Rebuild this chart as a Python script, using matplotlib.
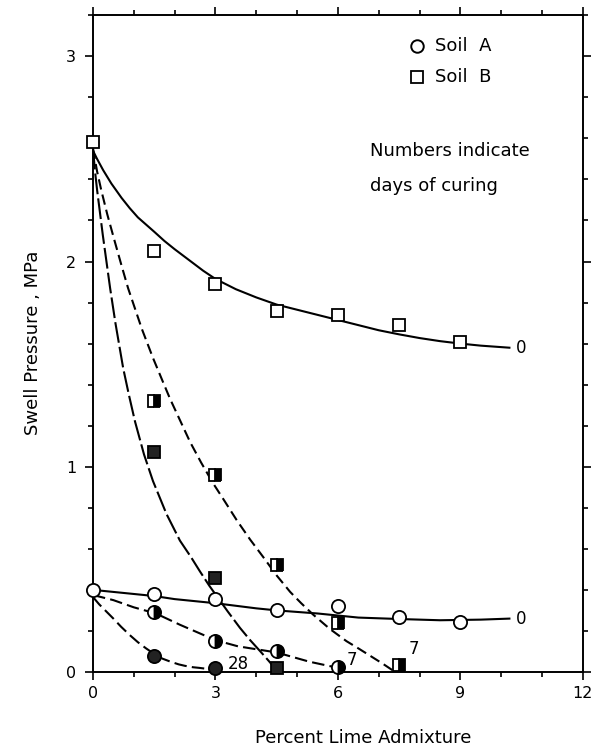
import matplotlib
matplotlib.use("Agg")
import matplotlib.pyplot as plt
from matplotlib.ticker import MultipleLocator

# measured points (percent lime, swell pressure MPa)
a0_x = [0, 1.5, 3, 4.5, 6, 7.5, 9]
a0_y = [0.40, 0.38, 0.355, 0.30, 0.32, 0.27, 0.245]
a7_x = [1.5, 3, 4.5, 6]
a7_y = [0.29, 0.15, 0.10, 0.025]
a28_x = [1.5, 3]
a28_y = [0.08, 0.02]

b0_x = [0, 1.5, 3, 4.5, 6, 7.5, 9]
b0_y = [2.58, 2.05, 1.89, 1.76, 1.74, 1.69, 1.61]
b7_x = [1.5, 3, 4.5, 6, 7.5]
b7_y = [1.32, 0.96, 0.52, 0.24, 0.035]
b28_x = [1.5, 3, 4.5]
b28_y = [1.07, 0.46, 0.02]

# hand drawn trend curves
cb0_x = [0, 0.1, 0.25, 0.45, 0.7, 0.9, 1.1, 1.3, 1.5, 1.75, 2.0, 2.4, 2.7, 3.0, 3.5, 4.0, 4.5,
         5.0, 5.5, 6.0, 6.5, 7.0, 7.5, 8.0, 8.5, 9.0, 9.5, 10.2]
cb0_y = [2.54, 2.50, 2.445, 2.38, 2.31, 2.26, 2.215, 2.18, 2.145, 2.10, 2.06, 2.00, 1.955, 1.915,
         1.865, 1.825, 1.79, 1.765, 1.74, 1.715, 1.69, 1.665, 1.645, 1.627, 1.612, 1.60, 1.59, 1.58]
cb7_x = [0, 0.1, 0.2, 0.35, 0.53, 0.7, 0.86, 1.03, 1.2, 1.47, 1.7, 1.89, 2.1, 2.38, 2.65, 2.94,
         3.2, 3.52, 3.85, 4.17, 4.5, 4.83, 5.1, 5.39, 5.8, 6.21, 6.5, 6.86, 7.1, 7.4]
cb7_y = [2.55, 2.44, 2.35, 2.23, 2.10, 1.98, 1.87, 1.77, 1.67, 1.53, 1.42, 1.33, 1.24, 1.12, 1.02,
         0.92, 0.84, 0.74, 0.645, 0.56, 0.47, 0.39, 0.335, 0.28, 0.21, 0.15, 0.115, 0.07, 0.04, 0.0]
cb28_x = [0, 0.05, 0.1, 0.17, 0.24, 0.33, 0.42, 0.55, 0.74, 0.88, 1.03, 1.25, 1.47, 1.8, 2.13,
          2.4, 2.62, 2.85, 3.03, 3.3, 3.6, 3.85, 4.1, 4.3, 4.45]
cb28_y = [2.55, 2.44, 2.35, 2.24, 2.13, 2.0, 1.87, 1.70, 1.48, 1.35, 1.22, 1.06, 0.93, 0.77, 0.64,
          0.56, 0.49, 0.42, 0.37, 0.295, 0.215, 0.155, 0.10, 0.055, 0.02]
ca0_x = [0, 0.5, 1.0, 1.5, 2.0, 3.0, 4.0, 4.5, 5.5, 6.5, 7.5, 8.5, 9.5, 10.2]
ca0_y = [0.40, 0.39, 0.38, 0.37, 0.355, 0.335, 0.31, 0.30, 0.285, 0.265, 0.258, 0.252, 0.255, 0.26]
ca7_x = [0, 0.5, 1.0, 1.54, 2.13, 3.0, 3.55, 4.5, 5.3, 6.0]
ca7_y = [0.375, 0.35, 0.315, 0.285, 0.23, 0.155, 0.125, 0.095, 0.05, 0.02]
ca28_x = [0, 0.15, 0.3, 0.5, 0.69, 0.9, 1.1, 1.3, 1.52, 1.7, 1.9, 2.1, 2.25, 2.45, 2.6, 2.8, 3.0]
ca28_y = [0.365, 0.33, 0.30, 0.26, 0.22, 0.18, 0.145, 0.115, 0.085, 0.065, 0.05, 0.037, 0.03,
          0.023, 0.02, 0.015, 0.012]

plt.rcParams['font.family'] = ['DejaVu Sans']

fig = plt.figure(figsize=(5.96, 7.54), dpi=100)
ax = fig.add_axes([0.156, 0.1088, 0.822, 0.871])

lw = 1.5
ax.plot(cb0_x, cb0_y, color='black', lw=lw)
ax.plot(cb7_x, cb7_y, color='black', lw=lw, linestyle=(0, (5, 2.5)))
ax.plot(cb28_x, cb28_y, color='black', lw=lw, linestyle=(0, (10, 2)))
ax.plot(ca0_x, ca0_y, color='black', lw=lw)
ax.plot(ca7_x, ca7_y, color='black', lw=lw, linestyle=(0, (6, 2.5)))
ax.plot(ca28_x, ca28_y, color='black', lw=lw, linestyle=(0, (6, 2.5)))

mk = dict(linestyle='none', markeredgecolor='black', markeredgewidth=1.3,
          clip_on=False, zorder=5)
ax.plot(b0_x, b0_y, marker='s', markersize=9, markerfacecolor='white', **mk)
ax.plot(b7_x, b7_y, marker='s', markersize=9, fillstyle='right',
        markerfacecolor='black', markerfacecoloralt='white', **mk)
ax.plot(b28_x, b28_y, marker='s', markersize=9, markerfacecolor='#222222', **mk)
ax.plot(a0_x, a0_y, marker='o', markersize=9.5, markerfacecolor='white', **mk)
ax.plot(a7_x, a7_y, marker='o', markersize=9.5, fillstyle='right',
        markerfacecolor='black', markerfacecoloralt='white', **mk)
ax.plot(a28_x, a28_y, marker='o', markersize=9.5, markerfacecolor='#222222', **mk)

# curve labels
fs = 12
ax.text(10.35, 1.58, '0', fontsize=fs, va='center', ha='left')
ax.text(10.35, 0.26, '0', fontsize=fs, va='center', ha='left')
ax.text(6.22, 0.06, '7', fontsize=fs, va='center', ha='left')
ax.text(7.72, 0.11, '7', fontsize=fs, va='center', ha='left')
ax.text(3.3, 0.04, '28', fontsize=fs, va='center', ha='left')

# legend
ax.plot([7.94], [3.05], marker='o', markersize=9, markerfacecolor='white',
        markeredgecolor='black', markeredgewidth=1.4, linestyle='none')
ax.plot([7.94], [2.90], marker='s', markersize=9, markerfacecolor='white',
        markeredgecolor='black', markeredgewidth=1.3, linestyle='none')
ax.text(8.38, 3.05, 'Soil  A', fontsize=13, va='center', ha='left')
ax.text(8.38, 2.90, 'Soil  B', fontsize=13, va='center', ha='left')
ax.text(6.78, 2.54, 'Numbers indicate', fontsize=13, va='center', ha='left')
ax.text(6.78, 2.37, 'days of curing', fontsize=13, va='center', ha='left')

ax.set_xlim(0, 12)
ax.set_ylim(0, 3.2)
ax.xaxis.set_major_locator(MultipleLocator(3))
ax.xaxis.set_minor_locator(MultipleLocator(1))
ax.yaxis.set_major_locator(MultipleLocator(1))
ax.yaxis.set_minor_locator(MultipleLocator(0.2))
ax.tick_params(which='both', top=True, right=True, direction='out',
               width=1.2, labelsize=11.5)
ax.tick_params(which='major', length=6)
ax.tick_params(which='minor', length=3.5)
ax.tick_params(axis='x', which='major', pad=4)
ax.tick_params(axis='y', which='major', pad=6)
for s in ax.spines.values():
    s.set_linewidth(1.4)

fig.text(0.609, 0.021, 'Percent Lime Admixture', fontsize=13, ha='center', va='center')
fig.text(0.055, 0.545, 'Swell Pressure , MPa', fontsize=13, rotation=90,
         ha='center', va='center')

fig.savefig('out.png', dpi=100)
